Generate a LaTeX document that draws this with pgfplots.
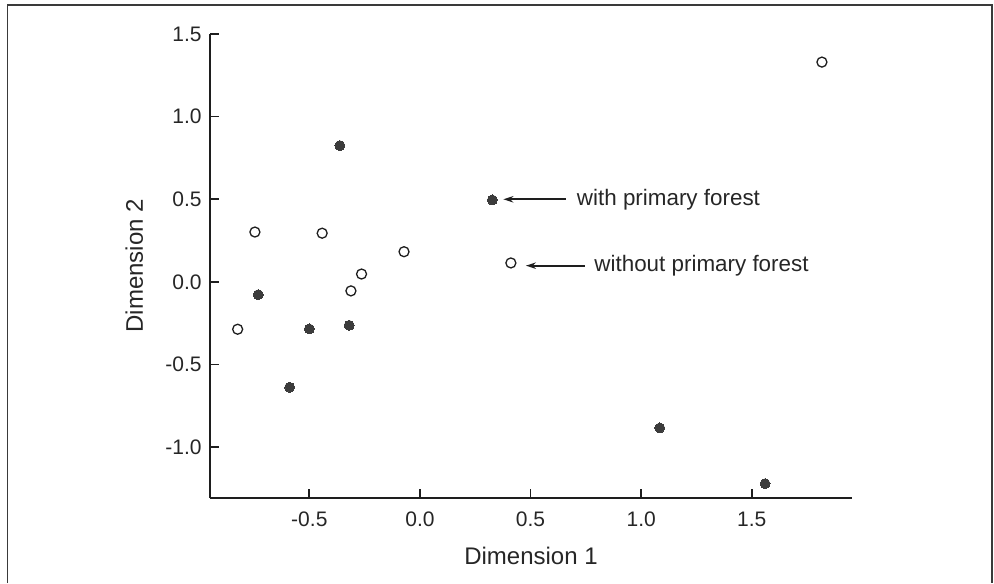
\documentclass[border=0pt]{standalone}
\usepackage{pgfplots}
\pgfplotsset{compat=1.18}
\usepackage{fontspec}
\setmainfont{Liberation Sans}
\usetikzlibrary{arrows.meta}
\definecolor{dotgray}{HTML}{3C3C3C}
\definecolor{axcol}{HTML}{1E1E1E}
\definecolor{framecol}{HTML}{3A3A3A}
\newcommand{\tickfont}{\fontsize{10.5}{12}\selectfont}
\newcommand{\labfont}{\fontsize{12}{14}\selectfont}
\newcommand{\annfont}{\fontsize{11.2}{13}\selectfont}
\begin{document}
\begin{tikzpicture}
\useasboundingbox (0,0) rectangle (497pt,291.5pt);
\draw[line width=0.65pt, color=framecol] (3.75pt,0) -- (3.75pt,289pt) -- (496pt,289pt) -- (496pt,0);
\begin{axis}[
  at={(105pt,42.65pt)}, anchor=south west,
  scale only axis, width=321pt, height=231.85pt,
  xmin=-0.949, xmax=1.953, ymin=-1.305, ymax=1.5,
  axis lines=left,
  axis line style={-, line width=0.85pt, color=axcol},
  tick align=inside, major tick length=4.5pt,
  tick style={line width=0.85pt, color=axcol},
  xtick={-0.5,0,0.5,1,1.5}, ytick={-1,-0.5,0,0.5,1,1.5},
  /pgf/number format/assume math mode=true,
  /pgf/number format/fixed, /pgf/number format/fixed zerofill,
  /pgf/number format/precision=1,
  every tick label/.append style={font=\tickfont, text=black!85},
  xticklabel style={font=\tickfont, text=black!85, yshift=-3.5pt},
  yticklabel style={font=\tickfont, text=black!85, xshift=-0.65pt},
  xlabel={Dimension 1}, ylabel={Dimension 2},
  every axis x label/.style={at={(axis description cs:0.5,-0.1451)}, anchor=base, font=\labfont, text=black!85},
  every axis y label/.style={at={(axis description cs:-0.1044,0.5)}, rotate=90, anchor=base, font=\labfont, text=black!85},
  clip=false,
]
% with primary forest (filled)
\addplot[only marks, mark=*, mark size=2.5pt, mark options={fill=dotgray, draw=dotgray, line width=0pt}]
  coordinates {
    (-0.362,0.825) (0.327,0.496) (-0.731,-0.077) (-0.500,-0.284)
    (-0.320,-0.262) (-0.589,-0.637) (1.084,-0.883) (1.560,-1.220)
  };
% without primary forest (open)
\addplot[only marks, mark=o, mark size=2.5pt, mark options={draw=axcol, fill=white, line width=0.65pt}]
  coordinates {
    (-0.746,0.302) (-0.442,0.295) (-0.072,0.183) (-0.264,0.048)
    (-0.312,-0.054) (-0.824,-0.286) (0.411,0.115) (1.817,1.330)
  };
\draw[-{Stealth[length=5pt,width=3.2pt]}, line width=0.85pt, color=axcol]
  (axis cs:0.660,0.500) -- (axis cs:0.377,0.500);
\draw[-{Stealth[length=5pt,width=3.2pt]}, line width=0.85pt, color=axcol]
  (axis cs:0.746,0.0986) -- (axis cs:0.479,0.0986);
\node[anchor=base west, inner sep=0pt, font=\annfont, text=black!85]
  at (axis cs:0.708,0.46) {with primary forest};
\node[anchor=base west, inner sep=0pt, font=\annfont, text=black!85]
  at (axis cs:0.787,0.062) {without primary forest};
\end{axis}
\end{tikzpicture}
\end{document}
